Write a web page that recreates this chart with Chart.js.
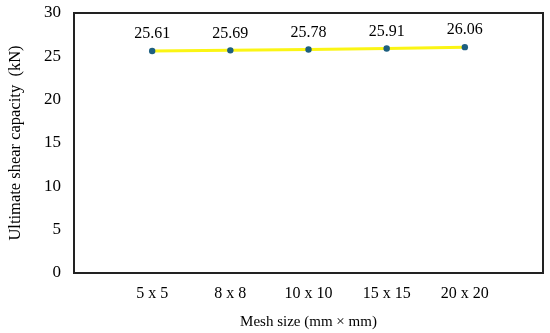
<!DOCTYPE html>
<html>
<head>
<meta charset="utf-8">
<script src="https://cdn.jsdelivr.net/npm/chart.js@4/dist/chart.umd.min.js"></script>
<style>
  html, body { margin: 0; padding: 0; background: #fff; }
  #wrap { width: 550px; height: 333px; }
</style>
</head>
<body>
<div id="wrap"><canvas id="chart"></canvas></div>
<script>
// Data
const categories = ['5 x 5', '8 x 8', '10 x 10', '15 x 15', '20 x 20'];
const capacity = [25.61, 25.69, 25.78, 25.91, 26.06];
const yTicks = [0, 5, 10, 15, 20, 25, 30];

const FONT = '"Liberation Serif", "Times New Roman", serif';

// point value labels above each marker
const valueLabels = {
  id: 'valueLabels',
  afterDatasetsDraw(chart) {
    const ctx = chart.ctx;
    const meta = chart.getDatasetMeta(0);
    ctx.save();
    ctx.font = '16px ' + FONT;
    ctx.fillStyle = '#000';
    ctx.textAlign = 'center';
    ctx.textBaseline = 'bottom';
    meta.data.forEach((pt, i) => {
      ctx.fillText(capacity[i].toFixed(2), pt.x, pt.y - 9);
    });
    ctx.restore();
  }
};

// black frame around the plot area
const plotFrame = {
  id: 'plotFrame',
  beforeDatasetsDraw(chart) {
    const { ctx, chartArea: a } = chart;
    ctx.save();
    ctx.strokeStyle = '#222';
    ctx.lineWidth = 2;
    ctx.strokeRect(a.left, a.top, a.right - a.left, a.bottom - a.top);
    ctx.restore();
  }
};

new Chart(document.getElementById('chart'), {
  type: 'line',
  data: {
    datasets: [{
      label: 'Ultimate shear capacity',
      data: capacity.map((v, i) => ({ x: i + 1, y: v })),
      borderColor: '#fbf514',
      borderWidth: 3,
      pointBackgroundColor: '#1d5f80',
      pointBorderWidth: 0,
      pointRadius: 3.2,
      tension: 0,
      fill: false,
    }]
  },
  options: {
    responsive: true, maintainAspectRatio: false,
    animation: false,
    layout: { padding: { top: 13, right: 7, bottom: 0, left: 0 } },
    plugins: { legend: { display: false }, tooltip: { enabled: false } },
    scales: {
      x: {
        type: 'linear', min: 0, max: categories.length + 1,
        grid: { display: false, drawTicks: false },
        border: { display: false },
        afterBuildTicks: s => { s.ticks = categories.map((c, i) => ({ value: i + 1 })); },
        afterFit: s => { s.height = 60; s.paddingLeft = 0; s.paddingRight = 0; },
        ticks: {
          callback: v => categories[v - 1] || '',
          color: '#000', font: { family: FONT, size: 16 }, padding: 11, maxRotation: 0,
        },
        title: { display: true, text: 'Mesh size (mm × mm)', color: '#000', font: { family: FONT, size: 15 }, padding: 2 }
      },
      y: {
        min: 0, max: 30,
        grid: { display: false, drawTicks: false },
        border: { display: false },
        afterBuildTicks: s => { s.ticks = yTicks.map(v => ({ value: v })); },
        afterFit: s => { s.width = 74; s.paddingTop = 0; s.paddingBottom = 0; },
        ticks: { color: '#000', font: { family: FONT, size: 17 }, padding: 13 },
        title: { display: true, text: 'Ultimate shear capacity  (kN)', color: '#000', font: { family: FONT, size: 16.5 }, padding: 6 }
      }
    }
  },
  plugins: [plotFrame, valueLabels]
});
</script>
</body>
</html>
